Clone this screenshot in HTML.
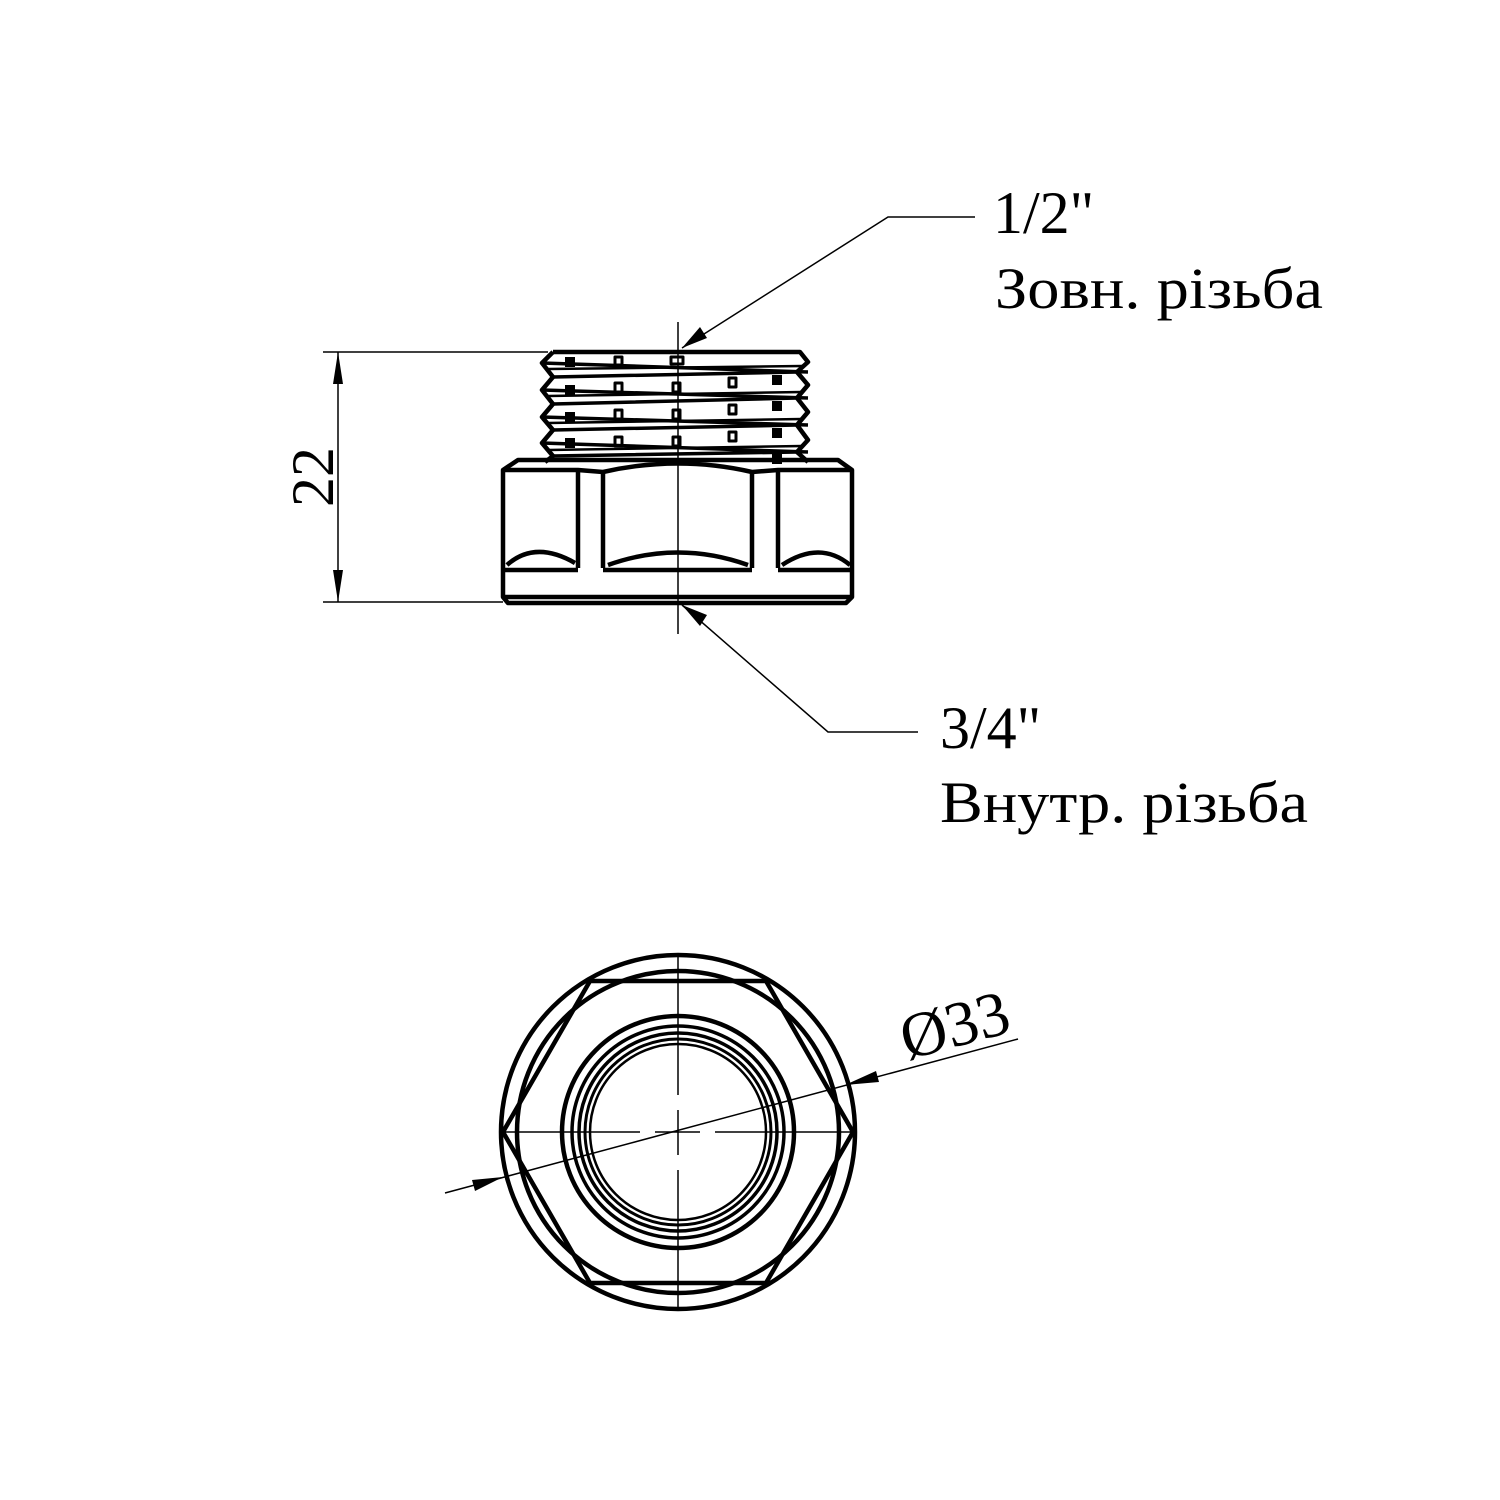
<!DOCTYPE html>
<html><head><meta charset="utf-8"><style>html,body{margin:0;padding:0;background:#fff}svg{display:block}</style></head>
<body>
<svg width="1500" height="1500" viewBox="0 0 1500 1500" xmlns="http://www.w3.org/2000/svg">
<rect width="1500" height="1500" fill="#fff"/>
<g font-family="Liberation Serif, serif" fill="#000">
<text x="993" y="233" font-size="60">1/2"</text>
<text x="995" y="308" font-size="58" textLength="328" lengthAdjust="spacingAndGlyphs">Зовн. різьба</text>
<text x="940" y="748" font-size="60">3/4"</text>
<text x="940" y="822" font-size="58" textLength="368" lengthAdjust="spacingAndGlyphs">Внутр. різьба</text>
<text transform="translate(333,477) rotate(-90)" font-size="60" text-anchor="middle">22</text>
<text transform="translate(907,1060) rotate(-15)" font-size="64">Ø33</text>
</g>
<g stroke="#000" stroke-width="1.5" fill="none">
<line x1="323" y1="352" x2="548" y2="352"/>
<line x1="323" y1="602" x2="503" y2="602"/>
<line x1="338" y1="352" x2="338" y2="602"/>
<polyline points="682,348 888,217 975,217"/>
<polyline points="682,605 828,732 918,732"/>
<line x1="678" y1="322" x2="678" y2="634"/>
<line x1="445" y1="1193" x2="1018" y2="1039"/>
</g>
<g fill="#000">
<polygon points="338,352 333,384 343,384"/>
<polygon points="338,602 333,570 343,570"/>
<polygon points="682,348 700,327 707,338"/>
<polygon points="682,605 700,626 707,615"/>
<polygon points="845,1085 876,1071 879,1082"/>
<polygon points="503,1177 472,1180 475,1191"/>
</g>
<g stroke="#000" stroke-width="4.5" fill="none" stroke-linejoin="round">
<path d="M553,352 L800,352 L808,362 L797,372 L808,385 L797,398 L808,412 L797,425 L808,440 L797,452 L808,462"/>
<path d="M553,352 L542,363 L553,377 L542,390 L553,404 L542,417 L553,430 L542,443 L553,456 L545,462"/>
<path d="M542,363 L808,372 M553,377 L797,372 M542,390 L808,398 M553,404 L797,398 M542,417 L808,425 M553,430 L797,425 M542,443 L808,452 M553,456 L797,452" stroke-width="3.5"/>
<path d="M548,369 L802,366 M548,396 L802,392 M548,423 L802,419 M548,450 L802,446" stroke-width="2.5"/>
<g fill="#000" stroke="none">
<rect x="565" y="357" width="10" height="10"/><rect x="565" y="385" width="10" height="10"/><rect x="565" y="412" width="10" height="10"/><rect x="565" y="438" width="10" height="10"/>
<rect x="772" y="375" width="10" height="10"/><rect x="772" y="401" width="10" height="10"/><rect x="772" y="428" width="10" height="10"/><rect x="772" y="454" width="10" height="10"/>
</g>
<g stroke-width="3">
<rect x="615" y="357" width="7" height="8"/><rect x="615" y="383" width="7" height="9"/><rect x="615" y="410" width="7" height="9"/><rect x="615" y="437" width="7" height="9"/>
<rect x="671" y="357" width="12" height="7"/><rect x="673" y="383" width="7" height="9"/><rect x="673" y="410" width="7" height="9"/><rect x="673" y="437" width="7" height="9"/>
<rect x="729" y="378" width="7" height="9"/><rect x="729" y="405" width="7" height="9"/><rect x="729" y="432" width="7" height="9"/>
</g>
<path d="M503,470 L518,460 L838,460 L852,470 L852,597 L846,603 L508,603 L503,597 Z"/>
<path d="M503,470 L578,470 L603,472 Q678,455 752,472 L778,470 L852,470"/>
<line x1="578" y1="470" x2="578" y2="568"/>
<line x1="603" y1="472" x2="603" y2="568"/>
<line x1="752" y1="472" x2="752" y2="568"/>
<line x1="778" y1="470" x2="778" y2="568"/>
<path d="M503,570 L578,570 M603,570 L752,570 M778,570 L852,570"/>
<path d="M507,565 Q535,540 575,563 M608,565 Q678,540 748,565 M782,565 Q820,540 850,565"/>
<line x1="503" y1="597" x2="852" y2="597"/>
</g>
<g stroke="#000" stroke-width="4.5" fill="none">
<circle cx="678" cy="1132" r="177"/>
<circle cx="678" cy="1132" r="161"/>
<polygon points="503,1132 590,981 766,981 853,1132 766,1283 590,1283"/>
<circle cx="678" cy="1132" r="116"/>
<circle cx="678" cy="1132" r="106" stroke-width="3.5"/>
<circle cx="678" cy="1132" r="99" stroke-width="3.5"/>
<circle cx="678" cy="1132" r="93" stroke-width="3"/>
<circle cx="678" cy="1132" r="88" stroke-width="2.5"/>
</g>
<g stroke="#000" stroke-width="1.5" fill="none">
<line x1="500" y1="1132" x2="640" y2="1132"/>
<line x1="655" y1="1132" x2="700" y2="1132"/>
<line x1="715" y1="1132" x2="855" y2="1132"/>
<line x1="678" y1="955" x2="678" y2="1095"/>
<line x1="678" y1="1110" x2="678" y2="1155"/>
<line x1="678" y1="1170" x2="678" y2="1310"/>
</g>
</svg>
</body></html>
